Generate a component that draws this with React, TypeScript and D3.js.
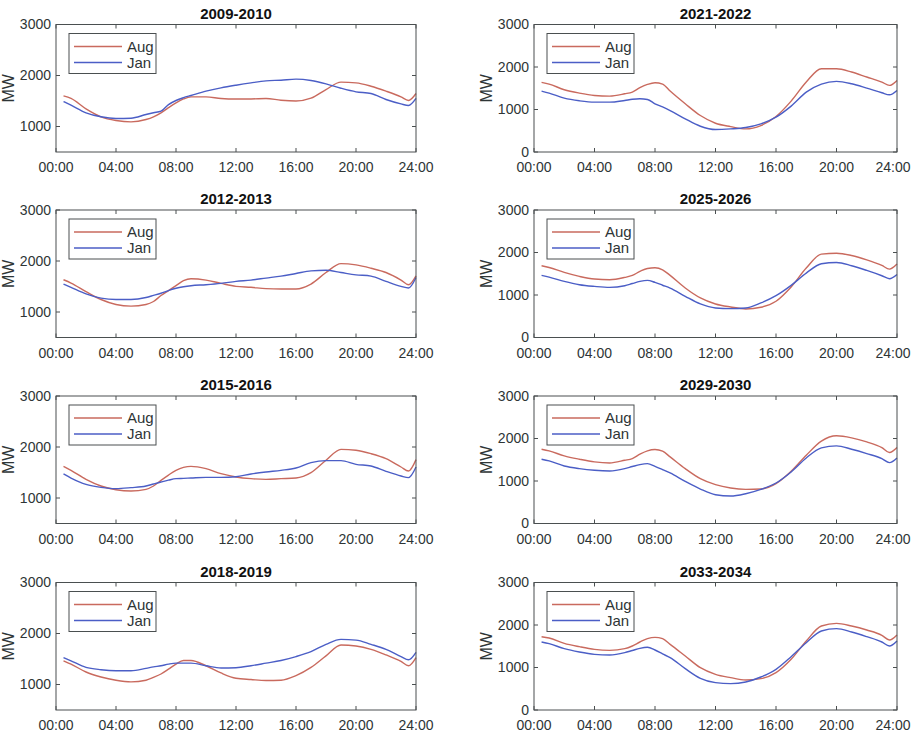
import { useEffect, useRef } from "react";
import * as d3 from "d3";

const hours = [
  0.5, 1, 2, 3, 4, 5, 6, 6.5, 7, 7.5, 8, 8.5, 9, 10, 11, 12, 13, 14, 15, 16, 17,
  18, 19, 20, 21, 22, 23, 23.5, 24,
];

const periods = [
  "2009-2010",
  "2021-2022",
  "2012-2013",
  "2025-2026",
  "2015-2016",
  "2029-2030",
  "2018-2019",
  "2033-2034",
];

const seriesNames = ["Aug", "Jan"];
const xTickHours = [0, 4, 8, 12, 16, 20, 24];
const xTickLabels = ["00:00", "04:00", "08:00", "12:00", "16:00", "20:00", "24:00"];
const yTicksLeft = [1000, 2000, 3000];
const yTicksRight = [0, 1000, 2000, 3000];

const aug2009 = [1600, 1550, 1345, 1190, 1118, 1090, 1137, 1190, 1268, 1370, 1464, 1540, 1580, 1580, 1550, 1540, 1540, 1550, 1515, 1500, 1555, 1725, 1870, 1856, 1790, 1693, 1580, 1510, 1647];
const jan2009 = [1490, 1418, 1268, 1190, 1157, 1163, 1235, 1270, 1300, 1430, 1510, 1565, 1608, 1693, 1758, 1810, 1856, 1895, 1908, 1928, 1902, 1837, 1750, 1680, 1647, 1530, 1444, 1412, 1550];
const aug2012 = [1632, 1568, 1400, 1245, 1148, 1116, 1148, 1206, 1323, 1420, 1516, 1613, 1652, 1626, 1561, 1503, 1484, 1458, 1452, 1452, 1548, 1774, 1948, 1923, 1858, 1774, 1626, 1535, 1710];
const jan2012 = [1548, 1484, 1355, 1271, 1245, 1245, 1284, 1325, 1368, 1420, 1465, 1495, 1516, 1535, 1561, 1600, 1626, 1665, 1703, 1755, 1806, 1819, 1774, 1729, 1703, 1600, 1503, 1471, 1677];
const aug2015 = [1621, 1542, 1366, 1235, 1163, 1137, 1170, 1235, 1346, 1450, 1542, 1600, 1621, 1575, 1477, 1412, 1379, 1366, 1379, 1392, 1497, 1739, 1954, 1935, 1869, 1771, 1608, 1529, 1752];
const jan2015 = [1471, 1392, 1268, 1209, 1183, 1203, 1235, 1275, 1314, 1350, 1379, 1385, 1392, 1405, 1405, 1418, 1471, 1510, 1542, 1588, 1693, 1732, 1732, 1660, 1627, 1523, 1431, 1399, 1608];
const aug2018 = [1465, 1400, 1245, 1148, 1084, 1052, 1084, 1140, 1206, 1300, 1400, 1471, 1471, 1368, 1226, 1123, 1097, 1077, 1084, 1174, 1335, 1561, 1774, 1755, 1690, 1581, 1452, 1368, 1529];
const jan2018 = [1529, 1465, 1335, 1290, 1271, 1271, 1316, 1345, 1368, 1400, 1419, 1419, 1419, 1368, 1323, 1329, 1368, 1419, 1471, 1548, 1645, 1787, 1884, 1871, 1787, 1690, 1548, 1484, 1632];
const aug2021 = [1638, 1598, 1465, 1386, 1331, 1315, 1370, 1410, 1512, 1590, 1630, 1598, 1433, 1134, 858, 677, 598, 543, 622, 835, 1197, 1646, 1960, 1960, 1882, 1764, 1646, 1567, 1685];
const jan2021 = [1433, 1386, 1268, 1205, 1173, 1173, 1213, 1240, 1252, 1236, 1134, 1060, 976, 780, 606, 528, 543, 575, 661, 819, 1079, 1409, 1598, 1661, 1606, 1504, 1394, 1346, 1449];
const aug2025 = [1688, 1648, 1531, 1438, 1375, 1359, 1414, 1461, 1555, 1625, 1640, 1594, 1461, 1164, 930, 789, 719, 672, 711, 852, 1188, 1633, 1961, 1984, 1930, 1828, 1695, 1609, 1727];
const jan2025 = [1461, 1422, 1320, 1242, 1203, 1180, 1219, 1270, 1320, 1344, 1297, 1230, 1164, 969, 789, 695, 680, 695, 813, 984, 1227, 1516, 1734, 1766, 1688, 1578, 1453, 1383, 1484];
const aug2029 = [1748, 1709, 1591, 1512, 1449, 1425, 1488, 1528, 1630, 1710, 1740, 1701, 1567, 1291, 1055, 913, 835, 803, 811, 937, 1228, 1606, 1937, 2063, 2016, 1921, 1787, 1669, 1787];
const jan2029 = [1512, 1472, 1354, 1291, 1252, 1236, 1291, 1340, 1386, 1409, 1346, 1270, 1189, 992, 811, 677, 646, 701, 803, 953, 1213, 1543, 1780, 1827, 1748, 1646, 1528, 1433, 1543];
const aug2033 = [1725, 1694, 1569, 1490, 1427, 1404, 1443, 1506, 1600, 1680, 1710, 1678, 1545, 1271, 996, 839, 761, 706, 737, 878, 1192, 1624, 1976, 2039, 1976, 1882, 1757, 1647, 1765];
const jan2033 = [1600, 1561, 1443, 1365, 1310, 1294, 1349, 1400, 1451, 1475, 1412, 1320, 1231, 973, 745, 643, 620, 659, 776, 957, 1255, 1584, 1859, 1914, 1835, 1725, 1600, 1506, 1624];

const panelSeries = [
  [aug2009, jan2009],
  [aug2021, jan2021],
  [aug2012, jan2012],
  [aug2025, jan2025],
  [aug2015, jan2015],
  [aug2029, jan2029],
  [aug2018, jan2018],
  [aug2033, jan2033],
];

const COLORS = ["#c96a5e", "#4b5ec6"];
const FONT = "'Liberation Sans', Arial, sans-serif";
const TEXT = "#2e3536";
const AXIS = "#4a4f50";

const colX = [
  [56, 416],
  [534, 897],
];
const rowTop = [24.5, 210, 396, 582.5];
const plotH = 127.5;

export default function App() {
  const ref = useRef<SVGSVGElement>(null);

  useEffect(() => {
    if (!ref.current) return;
    const svg = d3.select(ref.current);
    svg.selectAll("*").remove();

    periods.forEach((title, i) => {
      const col = i % 2;
      const row = Math.floor(i / 2);
      const [x0, x1] = colX[col];
      const top = rowTop[row];
      const bottom = top + plotH;
      const right = col === 1;

      const x = d3.scaleLinear().domain([0, 24]).range([x0, x1]);
      const y = d3
        .scaleLinear()
        .domain(right ? [0, 3000] : [500, 3000])
        .range([bottom, top]);
      const yTicks = right ? yTicksRight : yTicksLeft;

      const g = svg.append("g").attr("font-family", FONT);

      // lines
      const line = d3
        .line<number>()
        .x((_, k) => x(hours[k]))
        .y((d) => y(d))
        .curve(d3.curveMonotoneX);

      panelSeries[i].forEach((vals, s) => {
        g.append("path")
          .attr("d", line(vals))
          .attr("fill", "none")
          .attr("stroke", COLORS[s])
          .attr("stroke-width", 1.4);
      });

      // box
      g.append("rect")
        .attr("x", x0)
        .attr("y", top)
        .attr("width", x1 - x0)
        .attr("height", plotH)
        .attr("fill", "none")
        .attr("stroke", AXIS)
        .attr("stroke-width", 1);

      // x ticks (inside, top and bottom)
      xTickHours.forEach((h, k) => {
        const px = x(h);
        g.append("line")
          .attr("x1", px).attr("x2", px)
          .attr("y1", bottom).attr("y2", bottom - 4)
          .attr("stroke", AXIS);
        g.append("line")
          .attr("x1", px).attr("x2", px)
          .attr("y1", top).attr("y2", top + 4)
          .attr("stroke", AXIS);
        g.append("text")
          .attr("x", Math.min(px, 893))
          .attr("y", bottom + 20)
          .attr("text-anchor", "middle")
          .attr("font-size", 14)
          .attr("fill", TEXT)
          .text(xTickLabels[k]);
      });

      // y ticks
      yTicks.forEach((v) => {
        const py = y(v);
        g.append("line")
          .attr("x1", x0).attr("x2", x0 + 4)
          .attr("y1", py).attr("y2", py)
          .attr("stroke", AXIS);
        g.append("line")
          .attr("x1", x1).attr("x2", x1 - 4)
          .attr("y1", py).attr("y2", py)
          .attr("stroke", AXIS);
        g.append("text")
          .attr("x", x0 - 5)
          .attr("y", py + 4.5)
          .attr("text-anchor", "end")
          .attr("font-size", 14)
          .attr("fill", TEXT)
          .text(v);
      });

      // y label
      g.append("text")
        .attr("transform", `translate(${x0 - 42},${(top + bottom) / 2}) rotate(-90)`)
        .attr("text-anchor", "middle")
        .attr("font-size", 16)
        .attr("fill", TEXT)
        .text("MW");

      // title
      g.append("text")
        .attr("x", (x0 + x1) / 2)
        .attr("y", top - 6)
        .attr("text-anchor", "middle")
        .attr("font-size", 15)
        .attr("font-weight", "bold")
        .attr("fill", "#111")
        .text(title);

      // legend
      const lx = x0 + 13;
      const ly = top + 9;
      g.append("rect")
        .attr("x", lx)
        .attr("y", ly)
        .attr("width", 87)
        .attr("height", 40)
        .attr("fill", "white")
        .attr("stroke", AXIS);
      seriesNames.forEach((name, s) => {
        const yy = ly + 13 + s * 16;
        g.append("line")
          .attr("x1", lx + 5).attr("x2", lx + 53)
          .attr("y1", yy).attr("y2", yy)
          .attr("stroke", COLORS[s])
          .attr("stroke-width", 1.4);
        g.append("text")
          .attr("x", lx + 58)
          .attr("y", yy + 5)
          .attr("font-size", 15)
          .attr("fill", TEXT)
          .text(name);
      });
    });
  }, []);

  return (
    <svg
      ref={ref}
      width={913}
      height={735}
      style={{ position: "absolute", left: 0, top: 0, background: "white" }}
    />
  );
}
